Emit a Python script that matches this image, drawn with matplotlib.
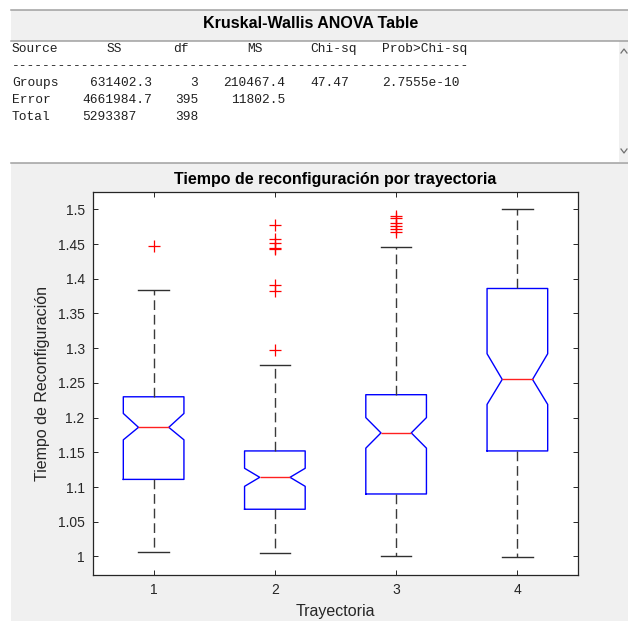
import numpy as np
import matplotlib
matplotlib.use("Agg")
import matplotlib.pyplot as plt
from matplotlib.patches import Rectangle
from matplotlib.lines import Line2D

# Box statistics (Tiempo de reconfiguración)
trayectorias = [1, 2, 3, 4]
whisker_low = [1.006, 1.005, 1.000, 0.999]
q1 = [1.111, 1.068, 1.090, 1.152]
medians = [1.186, 1.114, 1.178, 1.255]
q3 = [1.230, 1.152, 1.233, 1.386]
whisker_high = [1.384, 1.276, 1.446, 1.500]
notch_low = [1.168, 1.101, 1.156, 1.219]
notch_high = [1.206, 1.127, 1.200, 1.292]
outliers = [
    [1.447],
    [1.298, 1.383, 1.391, 1.443, 1.445, 1.451, 1.458, 1.477],
    [1.467, 1.471, 1.476, 1.481, 1.487, 1.491],
    [],
]

y_ticks = [1.0, 1.05, 1.1, 1.15, 1.2, 1.25, 1.3, 1.35, 1.4, 1.45, 1.5]
y_tick_labels = ["1", "1.05", "1.1", "1.15", "1.2", "1.25", "1.3", "1.35", "1.4", "1.45", "1.5"]

# Kruskal-Wallis table
table_header = ["Source", "SS", "df", "MS", "Chi-sq", "Prob>Chi-sq"]
table_rows = [
    ["Groups", "631402.3", "3", "210467.4", "47.47", "2.7555e-10"],
    ["Error", "4661984.7", "395", "11802.5", "", ""],
    ["Total", "5293387", "398", "", "", ""],
]

W, H = 628, 621
GRAY = "#F0F0F0"
EDGE = "#A0A0A0"
TXT = "#262626"


def fx(x):
    return x / W


def fy(y):
    return 1 - y / H


fig = plt.figure(figsize=(W / 100, H / 100), dpi=100, facecolor="white")

# window panels (kept behind the axes)
fig.add_artist(Rectangle((fx(11), fy(40.5)), fx(W) - fx(11), fy(9.5) - fy(40.5),
                         transform=fig.transFigure, facecolor=GRAY, edgecolor="none", zorder=-10))
fig.add_artist(Rectangle((fx(11), fy(H)), fx(W) - fx(11), fy(162.5) - fy(H),
                         transform=fig.transFigure, facecolor=GRAY, edgecolor="none", zorder=-10))
fig.add_artist(Rectangle((fx(619), fy(162)), fx(W) - fx(619), fy(41) - fy(162),
                         transform=fig.transFigure, facecolor=GRAY, edgecolor="none", zorder=-10))
for yy in [9.5, 40.5, 162.5]:
    fig.add_artist(Line2D([fx(11), fx(W)], [fy(yy), fy(yy)], transform=fig.transFigure,
                          color=EDGE, lw=1.1, zorder=-5))
# scrollbar arrows
fig.add_artist(Line2D([fx(621), fx(624), fx(627)], [fy(53), fy(49), fy(53)],
                      transform=fig.transFigure, color="#707070", lw=0.9, zorder=-5))
fig.add_artist(Line2D([fx(621), fx(624), fx(627)], [fy(149), fy(153), fy(149)],
                      transform=fig.transFigure, color="#707070", lw=0.9, zorder=-5))

fig.text(fx(311), fy(24), "Kruskal-Wallis ANOVA Table", ha="center", va="center",
         fontsize=11.5, fontweight="bold", family="Liberation Sans", color="black")

mono = dict(family="Liberation Mono", fontsize=9.3, color="#202020", va="center")
header_x = [12, 107, 173, 247, 310, 382]
for s, x in zip(table_header, header_x):
    fig.text(fx(x), fy(49), s, ha="left", **mono)
fig.text(fx(12), fy(66), "-" * 59, ha="left", **mono)

row_y = [83, 100, 117]
cell_x = [
    [(12, "left"), (152, "right"), (198, "right"), (285, "right"), (310, "left"), (382, "left")],
    [(12, "left"), (152, "right"), (198, "right"), (285, "right"), (310, "left"), (382, "left")],
    [(12, "left"), (82, "left"), (198, "right"), (285, "right"), (310, "left"), (382, "left")],
]
for row, yy, pos in zip(table_rows, row_y, cell_x):
    for s, (x, ha) in zip(row, pos):
        if s:
            fig.text(fx(x), fy(yy), s, ha=ha, **mono)

# boxplot axes
ax = fig.add_axes([fx(93), fy(574.5), fx(578) - fx(93), fy(192) - fy(574.5)])
ax.set_facecolor("white")

stats = []
for i in range(len(trayectorias)):
    stats.append({
        "med": medians[i], "q1": q1[i], "q3": q3[i],
        "whislo": whisker_low[i], "whishi": whisker_high[i],
        "cilo": notch_low[i], "cihi": notch_high[i],
        "fliers": outliers[i],
    })

ax.bxp(
    stats,
    positions=trayectorias,
    widths=0.5,
    shownotches=True,
    manage_ticks=False,
    boxprops=dict(color="#0000FF", lw=1.0),
    medianprops=dict(color="#FF2020", lw=1.0),
    whiskerprops=dict(color="#3a3a3a", lw=1.0, linestyle=(0, (7, 3.5))),
    capprops=dict(color="#303030", lw=1.0),
    flierprops=dict(marker="+", markeredgecolor="#FF0000", markersize=8,
                    markeredgewidth=0.9, linestyle="none"),
)

ax.set_xlim(0.5, 4.5)
ax.set_ylim(0.974, 1.525)
ax.set_xticks(trayectorias)
ax.set_xticklabels([str(t) for t in trayectorias])
ax.set_yticks(y_ticks)
ax.set_yticklabels(y_tick_labels)

ax.tick_params(axis="both", which="both", direction="in", length=3.5, width=0.7,
               top=True, right=True, colors=TXT, labelsize=10, pad=6)
for lab in ax.get_xticklabels() + ax.get_yticklabels():
    lab.set_family("Liberation Sans")
for sp in ax.spines.values():
    sp.set_color(TXT)
    sp.set_linewidth(0.9)

ax.set_title("Tiempo de reconfiguración por trayectoria", fontsize=11.5,
             fontweight="bold", family="Liberation Sans", color="black", pad=6)
ax.set_xlabel("Trayectoria", fontsize=11.5, family="Liberation Sans", color=TXT)
ax.set_ylabel("Tiempo de Reconfiguración", fontsize=11.5, family="Liberation Sans", color=TXT)
ax.xaxis.set_label_coords(0.5, -0.078)
ax.yaxis.set_label_coords(-0.088, 0.5)

fig.savefig("out.png", dpi=100, facecolor="white")
